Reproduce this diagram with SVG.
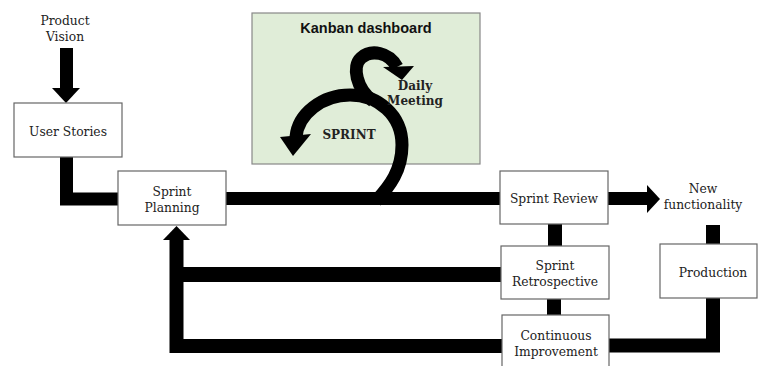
<svg xmlns="http://www.w3.org/2000/svg" width="759" height="366" viewBox="0 0 759 366">
<style>
.box{fill:#fff;stroke:#666;stroke-width:1.2}
.kb{fill:#e0edd8;stroke:#888;stroke-width:1.2}
.t{font-family:"DejaVu Serif","Liberation Serif",serif;font-size:12.3px;fill:#222;text-anchor:middle}
.tb{font-family:"DejaVu Serif","Liberation Serif",serif;font-size:12px;font-weight:bold;fill:#222;text-anchor:middle}
.title{font-family:"Liberation Sans",Arial,sans-serif;font-size:14.5px;font-weight:bold;fill:#111;text-anchor:middle}
.c{fill:none;stroke:#000;stroke-width:13;stroke-linejoin:miter}
.h{fill:#000}
</style>
<rect width="759" height="366" fill="#fff"/>
<g id="kanban">
<rect class="kb" x="252" y="13" width="228" height="151"/>
<text class="title" x="366" y="33">Kanban dashboard</text>
</g>
<g id="connectors">
<path class="c" d="M66.5 48 V90"/>
<polygon class="h" points="52,88 80,88 66,103"/>
<path class="c" d="M66.5 157 V199 H119"/>
<path class="c" d="M225 198.5 H501"/>
<path class="c" d="M607 198.5 H648"/>
<polygon class="h" points="647,185 660,199 647,213"/>
<path class="c" style="stroke-width:14" d="M555 223 V247"/>
<path class="c" style="stroke-width:14" d="M554 298 V316"/>
<path class="c" style="stroke-width:15" d="M502 274.5 H176.5"/>
<path class="c" style="stroke-width:14" d="M503 346 H176.5 V239"/>
<polygon class="h" points="163,240 190,240 176.5,226"/>
<path class="c" style="stroke-width:14" d="M713 225 V245"/>
<path class="c" style="stroke-width:14" d="M713 297 V345.5 H608"/>
<path class="c" d="M376 201 C390 186,402 170,402 145 C402 115,378 95,350 95 C322 95,298 114,296 137"/>
<polygon class="h" points="280,137 311,134 293,156"/>
<path class="c" d="M373 101 C356 89,352 66,361 58 C371 49,389 52,397 67"/>
<polygon class="h" points="383,67 414,66 402,80"/>
</g>
<g id="product-vision">
<text class="t" x="65" y="25">Product</text>
<text class="t" x="65" y="41">Vision</text>
</g>
<g id="user-stories">
<rect class="box" x="14" y="103" width="108" height="54"/>
<text class="t" x="68" y="136">User Stories</text>
</g>
<g id="sprint-planning">
<rect class="box" x="118" y="171" width="108" height="54"/>
<text class="t" x="172" y="196">Sprint</text>
<text class="t" x="172" y="212">Planning</text>
</g>
<g id="sprint-cycle">
<text class="tb" x="349" y="139">SPRINT</text>
<text class="tb" x="415" y="90">Daily</text>
<text class="tb" x="415" y="105">Meeting</text>
</g>
<g id="sprint-review">
<rect class="box" x="500" y="171" width="108" height="53"/>
<text class="t" x="554" y="203">Sprint Review</text>
</g>
<g id="new-functionality">
<text class="t" x="703" y="193">New</text>
<text class="t" x="703" y="209">functionality</text>
</g>
<g id="sprint-retrospective">
<rect class="box" x="501" y="246" width="108" height="53"/>
<text class="t" x="555" y="270">Sprint</text>
<text class="t" x="555" y="286">Retrospective</text>
</g>
<g id="production">
<rect class="box" x="660" y="244" width="97" height="54"/>
<text class="t" x="713" y="277">Production</text>
</g>
<g id="continuous-improvement">
<rect class="box" x="502" y="315" width="107" height="60"/>
<text class="t" x="556" y="340">Continuous</text>
<text class="t" x="556" y="356">Improvement</text>
</g>
</svg>
